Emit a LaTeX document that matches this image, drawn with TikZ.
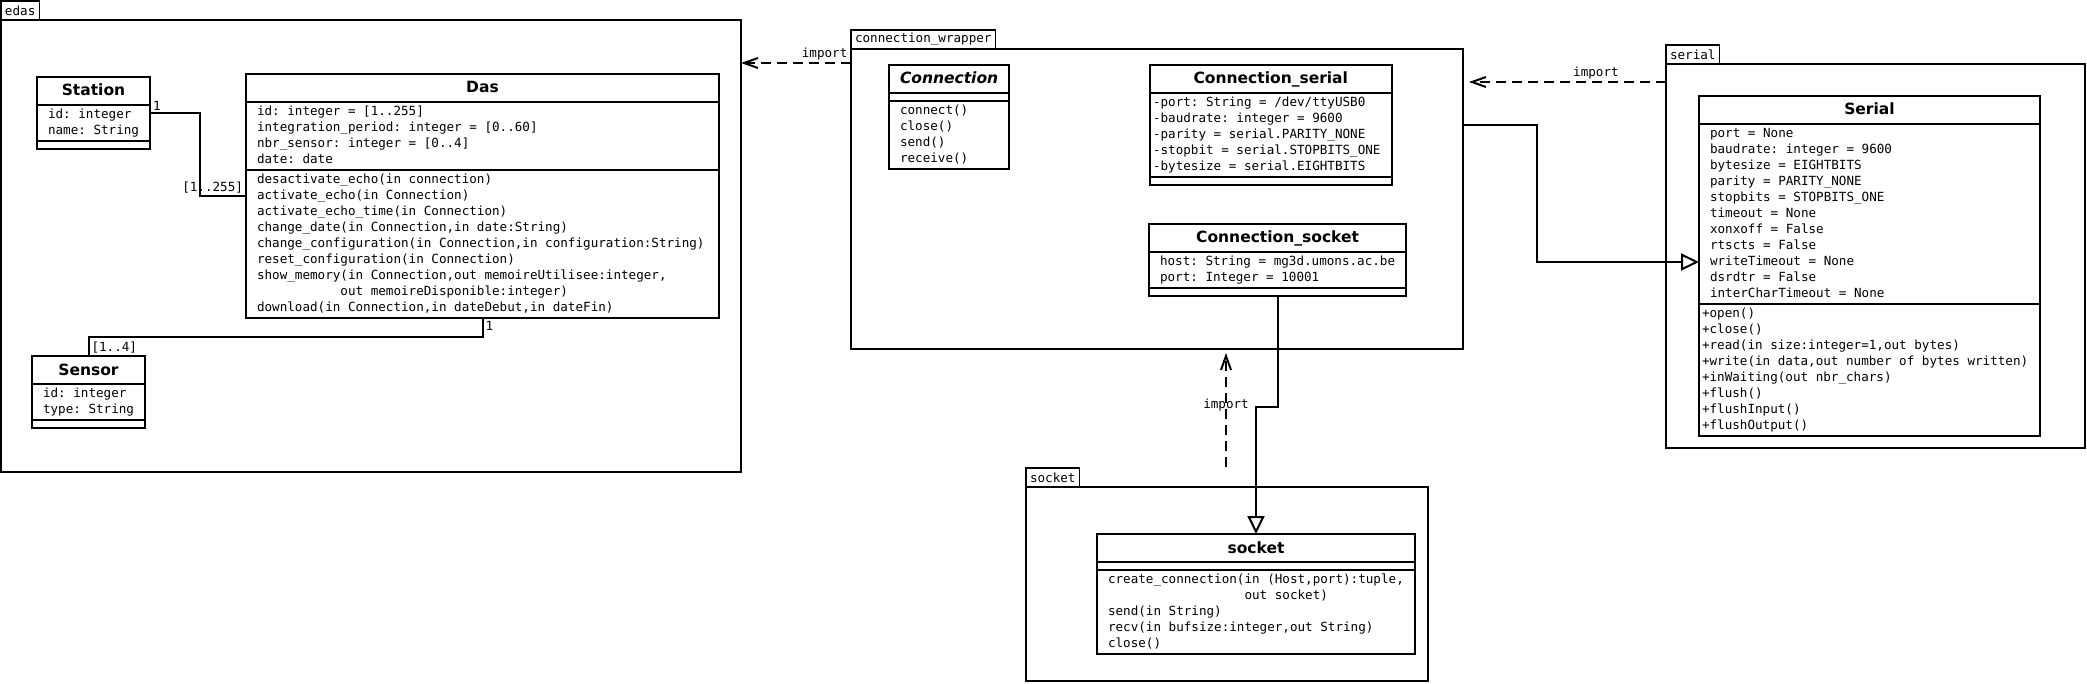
\documentclass[tikz,border=0pt]{standalone}
\usepackage{fontspec}
\usetikzlibrary{shapes.multipart,arrows.meta}
\newfontfamily\umlsans{DejaVu Sans}[BoldItalicFont={DejaVu Sans Bold Oblique}]
\newfontfamily\umlmono{DejaVu Sans Mono}
\newcommand\clsname[1]{{\umlsans\bfseries\fontsize{15.5pt}{18pt}\selectfont\rule[-7pt]{0pt}{24pt}#1}}

\begin{document}
\begin{tikzpicture}[x=1pt, y=-1pt, line width=2pt,
  pkg/.style = {draw, anchor=north west, inner sep=0pt, outer sep=0pt},
  pkgtab/.style = {draw, line width=1.6pt, anchor=south west, inner xsep=4pt, inner ysep=0pt, minimum height=19pt, outer sep=0pt, font=\umlmono\fontsize{12.6pt}{16pt}\selectfont\frenchspacing},
  umlclass/.style = {draw, anchor=north west, rectangle split, rectangle split parts=3, rectangle split part align={center,left,left}, rectangle split empty part height=4pt, rectangle split empty part depth=0pt, inner xsep=11pt, inner ysep=1pt, outer sep=0pt, font=\umlmono\fontsize{12.6pt}{16pt}\selectfont\frenchspacing},
  imp/.style = {dash pattern=on 10pt off 6pt, -{Straight Barb[length=14pt,width=10pt]}},
  gen/.style = {-{Triangle[length=18pt,width=17pt,fill=white]}},
  lbl/.style = {inner sep=2pt, font=\umlmono\fontsize{12.6pt}{16pt}\selectfont\frenchspacing}]
\useasboundingbox (0,0) rectangle (2087,684);

\node[pkg, minimum width=740pt, minimum height=452pt] (edas) at (1,20) {};
\node[pkgtab] (edastab) at (edas.north west) {edas};
\node[pkg, minimum width=612pt, minimum height=300pt] (wrapper) at (851,49) {};
\node[pkgtab] (wrappertab) at (wrapper.north west) {connection\_wrapper};
\node[pkg, minimum width=419pt, minimum height=384pt] (serialpkg) at (1666,64) {};
\node[pkgtab] (serialtab) at (serialpkg.north west) {serial};
\node[pkg, minimum width=402pt, minimum height=194pt] (socketpkg) at (1026,487) {};
\node[pkgtab] (sockettab) at (socketpkg.north west) {socket};

\node[umlclass, minimum width=110pt] (station) at (37,77) {\clsname{Station}%
  \nodepart{two}\begin{tabular}[t]{@{}l@{}}
    id: integer\\ name: String
  \end{tabular}%
  \nodepart{three}};
\node[umlclass, minimum width=473pt] (das) at (246,74) {\clsname{Das}%
  \nodepart{two}\begin{tabular}[t]{@{}l@{}}
    id: integer = [1..255]\\
    integration\_period: integer = [0..60]\\
    nbr\_sensor: integer = [0..4]\\
    date: date
  \end{tabular}%
  \nodepart{three}\begin{tabular}[t]{@{}l@{}}
    desactivate\_echo(in connection)\\
    activate\_echo(in Connection)\\
    activate\_echo\_time(in Connection)\\
    change\_date(in Connection,in date:String)\\
    change\_configuration(in Connection,in configuration:String)\\
    reset\_configuration(in Connection)\\
    show\_memory(in Connection,out memoireUtilisee:integer,\\
    \phantom{show\_memory}out memoireDisponible:integer)\\
    download(in Connection,in dateDebut,in dateFin)
  \end{tabular}};
\node[umlclass, minimum width=110pt] (sensor) at (32,356) {\clsname{Sensor}%
  \nodepart{two}\begin{tabular}[t]{@{}l@{}}
    id: integer\\ type: String
  \end{tabular}%
  \nodepart{three}};

\node[umlclass, minimum width=112pt] (conn) at (889,65) {\clsname{\itshape Connection}%
  \nodepart{two}%
  \nodepart{three}\begin{tabular}[t]{@{}l@{}}
    connect()\\ close()\\ send()\\ receive()
  \end{tabular}};
\node[umlclass, minimum width=241pt] (cserial) at (1150,65) {\clsname{Connection\_serial}%
  \nodepart{two}\begin{tabular}[t]{@{\hspace{-8pt}}l@{}}
    -port: String = /dev/ttyUSB0\\
    -baudrate: integer = 9600\\
    -parity = serial.PARITY\_NONE\\
    -stopbit = serial.STOPBITS\_ONE\\
    -bytesize = serial.EIGHTBITS
  \end{tabular}%
  \nodepart{three}};
\node[umlclass, minimum width=256pt] (csocket) at (1149,224) {\clsname{Connection\_socket}%
  \nodepart{two}\begin{tabular}[t]{@{}l@{}}
    host: String = mg3d.umons.ac.be\\
    port: Integer = 10001
  \end{tabular}%
  \nodepart{three}};

\node[umlclass, minimum width=341pt] (serialcls) at (1699,96) {\clsname{Serial}%
  \nodepart{two}\begin{tabular}[t]{@{}l@{}}
    port = None\\
    baudrate: integer = 9600\\
    bytesize = EIGHTBITS\\
    parity = PARITY\_NONE\\
    stopbits = STOPBITS\_ONE\\
    timeout = None\\
    xonxoff = False\\
    rtscts = False\\
    writeTimeout = None\\
    dsrdtr = False\\
    interCharTimeout = None
  \end{tabular}%
  \nodepart{three}\begin{tabular}[t]{@{\hspace{-8pt}}l@{}}
    +open()\\
    +close()\\
    +read(in size:integer=1,out bytes)\\
    +write(in data,out number of bytes written)\\
    +inWaiting(out nbr\_chars)\\
    +flush()\\
    +flushInput()\\
    +flushOutput()
  \end{tabular}};

\node[umlclass, minimum width=318pt] (socketcls) at (1097,534) {\clsname{socket}%
  \nodepart{two}%
  \nodepart{three}\begin{tabular}[t]{@{}l@{}}
    create\_connection(in (Host,port):tuple,\\
    \phantom{create\_connection(}out socket)\\
    send(in String)\\
    recv(in bufsize:integer,out String)\\
    close()
  \end{tabular}};

\draw (station.east) node[above right, lbl] {1} -- ++(50,0) |- (das.west) node[above left, lbl] {[1..255]};
\draw (das.south) node[below right, lbl] {1} -- ++(0,19) -| (sensor.north) node[above right, lbl] {[1..4]};

\coordinate (impa) at ([yshift=-14pt]wrapper.north west);
\draw[imp] (impa) -- (impa -| edas.east) node[pos=0.24, above, lbl] {import};
\coordinate (impb) at ([yshift=-18pt]serialpkg.north west);
\draw[imp, shorten >=6pt] (impb) -- (impb -| wrapper.east) node[pos=0.345, above, lbl] {import};
\coordinate (impc) at ([xshift=200pt, yshift=20pt]socketpkg.north west);
\draw[imp, shorten >=4pt] (impc) -- (impc |- wrapper.south) node[pos=0.526, lbl] {import};

\draw[gen] ([yshift=-76pt]wrapper.north east) -- ++(74,0) |- ([yshift=4pt]serialcls.west);
\draw[gen] (csocket.south) -- ++(0,111) -| (socketcls.north);
\end{tikzpicture}
\end{document}
